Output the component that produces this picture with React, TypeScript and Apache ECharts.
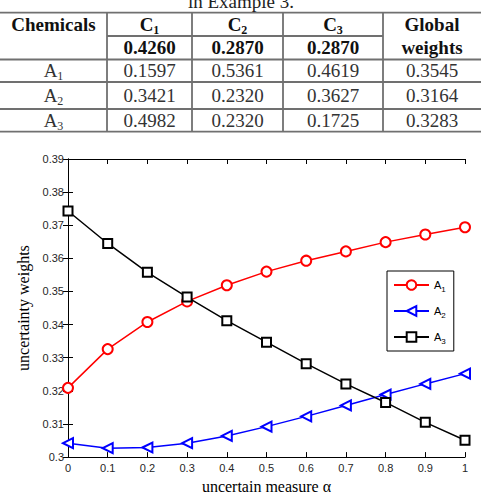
import React, { useEffect, useRef } from 'react';
import * as echarts from 'echarts';

// ---- chart data ----
const alphaValues = [0, 0.1, 0.2, 0.3, 0.4, 0.5, 0.6, 0.7, 0.8, 0.9, 1];
const a1Values = [0.3209, 0.3326, 0.3408, 0.347, 0.3519, 0.356, 0.3593, 0.3621, 0.3649, 0.3672, 0.3694];
const a2Values = [0.3042, 0.3027, 0.3029, 0.3042, 0.3064, 0.3092, 0.3123, 0.3156, 0.3189, 0.3221, 0.3252];
const a3Values = [0.3743, 0.3645, 0.3558, 0.3483, 0.3412, 0.3347, 0.3282, 0.3221, 0.3165, 0.3105, 0.3051];
const seriesNames = ['A1', 'A2', 'A3'];

// ---- table data ----
const tableCaption = 'in Example 3.';
const criteriaNames = ['C1', 'C2', 'C3'];
const criteriaWeights = ['0.4260', '0.2870', '0.2870'];
const alternativeNames = ['A1', 'A2', 'A3'];
const localWeightsC1 = ['0.1597', '0.3421', '0.4982'];
const localWeightsC2 = ['0.5361', '0.2320', '0.2320'];
const localWeightsC3 = ['0.4619', '0.3627', '0.1725'];
const globalWeights = ['0.3545', '0.3164', '0.3283'];

const SERIF = 'Liberation Serif';
const SANS = 'Liberation Sans';

function subText(s: string) {
  return `{b|${s[0]}}{s|${s.slice(1)}}`;
}

function buildTable() {
  const colEdges = [0, 107, 192, 283, 383, 481];
  const rowEdges = [12.7, 36, 59.5, 82, 109, 131.7];
  const lineStyle = { stroke: '#707070', lineWidth: 1.8 };
  const els: any[] = [];
  const W = 481;
  [0, 2, 3, 4, 5].forEach((ri) => {
    els.push({ type: 'line', shape: { x1: 0, y1: rowEdges[ri], x2: W, y2: rowEdges[ri] }, style: lineStyle });
  });
  els.push({ type: 'line', shape: { x1: colEdges[1], y1: rowEdges[1], x2: colEdges[4], y2: rowEdges[1] }, style: lineStyle });
  [1, 2, 3, 4].forEach((ci) => {
    els.push({ type: 'line', shape: { x1: colEdges[ci], y1: rowEdges[0], x2: colEdges[ci], y2: rowEdges[5] }, style: lineStyle });
  });
  const cx = (ci: number) => (colEdges[ci] + colEdges[ci + 1]) / 2;
  const cy = (ri: number) => (rowEdges[ri] + rowEdges[ri + 1]) / 2;
  const plain = (text: string, x: number, y: number, bold: boolean, color: string) => ({
    type: 'text',
    x,
    y,
    style: {
      text,
      fontFamily: SERIF,
      fontSize: 19,
      fontWeight: bold ? 'bold' : 'normal',
      fill: color,
      align: 'center',
      verticalAlign: 'middle',
    },
  });
  const rich = (text: string, x: number, y: number, bold: boolean, color: string) => ({
    type: 'text',
    x,
    y,
    style: {
      text: subText(text),
      align: 'center',
      verticalAlign: 'middle',
      rich: {
        b: { fontFamily: SERIF, fontSize: 19, fontWeight: bold ? 'bold' : 'normal', fill: color, lineHeight: 22 },
        s: { fontFamily: SERIF, fontSize: 12, fontWeight: bold ? 'bold' : 'normal', fill: color, lineHeight: 22, padding: [11, 0, 0, 0] },
      },
    },
  });
  // caption (cut at top, as in the source)
  els.push(plain(tableCaption, 241, 1, false, '#222'));
  els.push(plain('Chemicals', cx(0), cy(0), true, '#111'));
  criteriaNames.forEach((c, i) => els.push(rich(c, cx(i + 1), cy(0), true, '#111')));
  criteriaWeights.forEach((w, i) => els.push(plain(w, cx(i + 1), cy(1), true, '#111')));
  els.push(plain('Global', cx(4), cy(0), true, '#111'));
  els.push(plain('weights', cx(4), cy(1), true, '#111'));
  alternativeNames.forEach((a, r) => {
    const y = cy(r + 2);
    els.push(rich(a, cx(0), y, false, '#333'));
    els.push(plain(localWeightsC1[r], cx(1), y, false, '#333'));
    els.push(plain(localWeightsC2[r], cx(2), y, false, '#333'));
    els.push(plain(localWeightsC3[r], cx(3), y, false, '#333'));
    els.push(plain(globalWeights[r], cx(4), y, false, '#333'));
  });
  return els;
}

export default function App() {
  const ref = useRef<HTMLDivElement>(null);
  useEffect(() => {
    if (!ref.current) return;
    const chart = echarts.init(ref.current, null, { renderer: 'svg' });
    const axisLine = { show: true, lineStyle: { color: '#000', width: 1 } };
    const axisTick = { show: true, inside: true, length: 5, lineStyle: { color: '#000', width: 1 } };
    const colors = ['#ff0000', '#0000ff', '#000000'];
    const symbols = ['emptyCircle', 'emptyTriangle', 'emptyRect'];
    const sizes = [10, 10, 9];
    const rotates = [0, 90, 0];
    const values = [a1Values, a2Values, a3Values];
    const option: any = {
      animation: false,
      backgroundColor: '#ffffff',
      grid: { left: 68, right: 16, top: 159, bottom: 41, containLabel: false },
      xAxis: [
        {
          type: 'value', min: 0, max: 1, interval: 0.1, position: 'bottom',
          name: 'uncertain measure α', nameLocation: 'middle', nameGap: 20,
          nameTextStyle: { fontFamily: SERIF, fontSize: 16, color: '#000' },
          axisLine, axisTick,
          axisLabel: { fontFamily: SANS, fontSize: 11, color: '#262626', margin: 5 },
          splitLine: { show: false },
        },
        {
          type: 'value', min: 0, max: 1, interval: 0.1, position: 'top',
          axisLine, axisTick, axisLabel: { show: false }, splitLine: { show: false },
        },
      ],
      yAxis: [
        {
          type: 'value', min: 0.3, max: 0.39, interval: 0.01, position: 'left',
          name: 'uncertainty weights', nameLocation: 'middle', nameGap: 29,
          nameTextStyle: { fontFamily: SERIF, fontSize: 16, color: '#000' },
          axisLine, axisTick,
          axisLabel: { fontFamily: SANS, fontSize: 11, color: '#262626', margin: 4 },
          splitLine: { show: false },
        },
        {
          type: 'value', min: 0.3, max: 0.39, interval: 0.01, position: 'right',
          axisLine, axisTick, axisLabel: { show: false }, splitLine: { show: false },
        },
      ],
      legend: {
        orient: 'vertical', left: 387, top: 271,
        backgroundColor: '#fff', borderColor: '#000', borderWidth: 1, borderRadius: 0,
        padding: [6, 8, 6, 6], itemGap: 10, itemWidth: 35, itemHeight: 12,
        data: seriesNames,
        formatter: (n: string) => subText(n),
        textStyle: {
          rich: {
            b: { fontFamily: SANS, fontSize: 11, color: '#000', lineHeight: 12 },
            s: { fontFamily: SANS, fontSize: 8, color: '#000', lineHeight: 12, padding: [8, 0, 0, 0] },
          },
        },
      },
      graphic: buildTable(),
      series: seriesNames.map((name, k) => ({
        name,
        type: 'line',
        data: alphaValues.map((x, i) => [x, values[k][i]]),
        symbol: symbols[k],
        symbolSize: sizes[k],
        symbolRotate: rotates[k],
        showAllSymbol: true,
        color: colors[k],
        lineStyle: { color: colors[k], width: 1.5 },
        itemStyle: { color: colors[k], borderWidth: 1.5 },
        emphasis: { disabled: true },
        z: 2 + k,
      })),
    };
    chart.setOption(option);
    return () => chart.dispose();
  }, []);
  return <div ref={ref} style={{ position: 'absolute', left: 0, top: 0, width: 481, height: 499 }} />;
}
